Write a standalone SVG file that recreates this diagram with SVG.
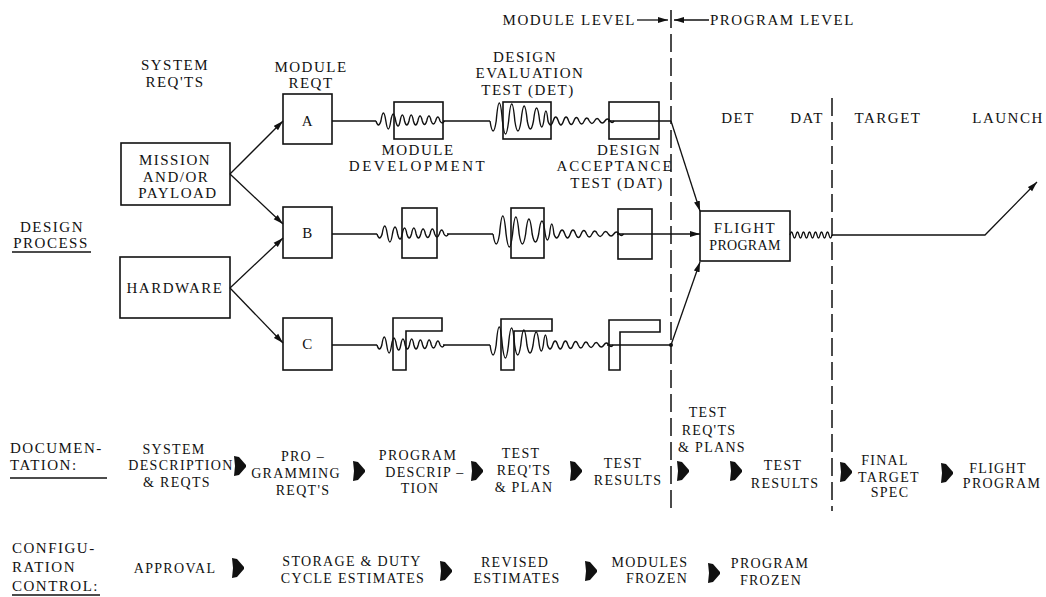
<svg xmlns="http://www.w3.org/2000/svg" width="1046" height="597" viewBox="0 0 1046 597" font-family="'Liberation Serif', 'DejaVu Serif', serif">
<style>
text{font-family:'Liberation Serif','DejaVu Serif',serif;font-size:15px;fill:#111;letter-spacing:1.5px}
.m{text-anchor:middle}
.e{text-anchor:end}
.s{font-size:14px;letter-spacing:1.3px}
.box{fill:none;stroke:#111;stroke-width:1.6}
.ln{fill:none;stroke:#111;stroke-width:1.3}
.dash{fill:none;stroke:#111;stroke-width:1.5;stroke-dasharray:18 6}
.fat{fill:#111}
</style>
<defs>
<marker id="ah" viewBox="0 0 10 6" refX="10" refY="3" markerWidth="10" markerHeight="7" orient="auto" markerUnits="userSpaceOnUse"><path d="M0,0 L10,3 L0,6 Z" fill="#111"/></marker>
<path id="w1" fill="none" stroke="#111" stroke-width="1.4" vector-effect="non-scaling-stroke" d="M0,0 q2.5,8 5,0 q2.5,-16 5,0 q2.5,16 5,0 q2.5,-14 5,0 q2.5,10 4.5,0 q2.25,-12 4.5,0 q2.25,8 4.5,0 q2.25,-12 4.5,0 q2.25,8 4.5,0 q2.25,-10 4.5,0 q2.25,7 4.5,0 q2.25,-10 4.5,0 q2.25,6 4.5,0 q2.25,-8 4.5,0 q2.25,4 4.5,0"/>
<path id="w2" fill="none" stroke="#111" stroke-width="1.4" vector-effect="non-scaling-stroke" d="M0,0 q3,20 6,0 q3,-36 6,0 q3,26 6,0 q3,-34 6,0 q3,20 6,0 q3,-30 6,0 q3,16 6,0 q3,-26 6,0 q2,12 4,0 q2,-20 4,0 q2.5,8 5,0 q2.5,-8 5,0 q2.5,8 5,0 q2.5,-8 5,0 q2.5,7 5,0 q2.5,-7 5,0 q2.5,6 5,0 q2.5,-6 5,0 q2.5,5 5,0 q2.5,-5 5,0 q2.5,4 5,0 q2.5,-4 5,0 q2,3 4,0"/>
<path id="fa" d="M0,-10 L5,-9 L12,-1 L12,1 L5,9 L0,10 L1,0 Z"/>
</defs>
<rect x="0" y="0" width="1046" height="597" fill="#fff"/>

<g id="level-markers">
<text class="e" x="636" y="25">MODULE LEVEL</text>
<text x="710" y="25">PROGRAM LEVEL</text>
<line x1="637" y1="20" x2="668" y2="20" class="ln" marker-end="url(#ah)"/>
<line x1="709" y1="20" x2="674" y2="20" class="ln" marker-end="url(#ah)"/>
<line x1="671" y1="10" x2="671" y2="512" class="dash"/>
<line x1="832" y1="98" x2="832" y2="511" class="dash"/>
</g>

<g id="headers">
<text class="m" x="175" y="70">SYSTEM</text>
<text class="m" x="175" y="87">REQ'TS</text>
<text class="m" x="311" y="72">MODULE</text>
<text class="m" x="311" y="88">REQT</text>
<text class="m" x="525" y="62">DESIGN</text>
<text class="m" x="530" y="78">EVALUATION</text>
<text class="m" x="528" y="95">TEST (DET)</text>
<text class="m" x="418" y="155">MODULE</text>
<text class="m" x="418" y="171" style="letter-spacing:2.5px">DEVELOPMENT</text>
<text class="m" x="629" y="155">DESIGN</text>
<text class="m" x="615" y="171" style="letter-spacing:2px">ACCEPTANCE</text>
<text class="m" x="617" y="188">TEST (DAT)</text>
<text class="m" x="738" y="123">DET</text>
<text class="m" x="807" y="123">DAT</text>
<text class="m" x="888" y="123">TARGET</text>
<text class="m" x="1008" y="123">LAUNCH</text>
</g>

<g id="side-labels">
<text class="m" x="52" y="232">DESIGN</text>
<text class="m" x="51" y="248">PROCESS</text>
<line x1="12" y1="252" x2="91" y2="252" class="ln"/>
<text x="10" y="453">DOCUMEN-</text>
<text x="10" y="470">TATION:</text>
<line x1="10" y1="478" x2="107" y2="478" class="ln"/>
<text x="12" y="553">CONFIGU-</text>
<text x="12" y="572">RATION</text>
<text x="12" y="591">CONTROL:</text>
<line x1="12" y1="595" x2="100" y2="595" class="ln"/>
</g>

<g id="mission">
<rect x="121" y="143" width="109" height="62" class="box"/>
<text class="m" x="175" y="165">MISSION</text>
<text class="m" x="176" y="182">AND/OR</text>
<text class="m" x="178" y="198">PAYLOAD</text>
</g>
<g id="hardware">
<rect x="120" y="257" width="110" height="61" class="box"/>
<text class="m" x="175" y="293">HARDWARE</text>
</g>
<g id="module-a">
<rect x="283" y="94" width="49" height="50" class="box"/>
<text class="m" x="308" y="126">A</text>
</g>
<g id="module-b">
<rect x="283" y="207" width="49" height="51" class="box"/>
<text class="m" x="308" y="238">B</text>
</g>
<g id="module-c">
<rect x="283" y="318" width="49" height="52" class="box"/>
<text class="m" x="308" y="349">C</text>
</g>

<g id="stages-a">
<rect x="394" y="102" width="49" height="37" class="box"/>
<rect x="503" y="102" width="48" height="37" class="box"/>
<rect x="609" y="102" width="50" height="37" class="box"/>
</g>
<g id="stages-b">
<rect x="402" y="208" width="35" height="50" class="box"/>
<rect x="511" y="208" width="33" height="50" class="box"/>
<rect x="618" y="209" width="34" height="50" class="box"/>
</g>
<g id="stages-c">
<polygon points="393,318 442,318 442,331 406,331 406,370 393,370" class="box"/>
<polygon points="501,319 552,319 552,331 514,331 514,370 501,370" class="box"/>
<polygon points="609,320 660,320 660,332 620,332 620,370 609,370" class="box"/>
</g>

<g id="flight-program">
<rect x="700" y="211" width="90" height="50" class="box"/>
<text class="m" x="745" y="233">FLIGHT</text>
<text class="m" x="745" y="250" style="font-size:14px;letter-spacing:0.3px">PROGRAM</text>
</g>

<g id="connectors">
<path class="ln" d="M230,174 L283,121" marker-end="url(#ah)"/>
<path class="ln" d="M230,174 L283,224" marker-end="url(#ah)"/>
<path class="ln" d="M230,288 L283,238" marker-end="url(#ah)"/>
<path class="ln" d="M230,288 L283,343" marker-end="url(#ah)"/>
<path class="ln" d="M332,121 H376 M443,121 H490 M608,121 H671"/>
<use href="#w1" transform="translate(376,121) scale(0.985,1)"/>
<use href="#w2" transform="translate(490,121) scale(1.035,1)"/>
<path class="ln" d="M332,234 H377 M447,234 H493"/>
<use href="#w1" transform="translate(377,234) scale(1.03,1)"/>
<use href="#w2" transform="translate(493,234) scale(1.088,1)"/>
<path class="ln" d="M617,234 H700" marker-end="url(#ah)"/>
<path class="ln" d="M332,345 H377 M443,345 H490 M607,345 H671"/>
<use href="#w1" transform="translate(377,345) scale(0.97,1)"/>
<use href="#w2" transform="translate(490,345) scale(1.026,1)"/>
<path class="ln" d="M671,121 L700,211" marker-end="url(#ah)"/>
<path class="ln" d="M671,345 L700,262" marker-end="url(#ah)"/>
<circle cx="671" cy="345" r="2" fill="#111"/>
<path class="ln" d="M790,235 q1.5,-6 3,0 t3,0 t3,0 t3,0 t3,0 t3,0 t3,0 t3,0 t3,0 t3,0 t3,0 t3,0 t3,0 t3,0"/>
<path class="ln" d="M832,235 H985 L1037,182" marker-end="url(#ah)"/>
</g>

<g id="documentation">
<text class="m s" x="174" y="454">SYSTEM</text>
<text class="m s" x="181" y="470">DESCRIPTION</text>
<text class="m s" x="177" y="487">&amp; REQTS</text>
<text class="m s" x="303" y="461">PRO –</text>
<text class="m s" x="296" y="478">GRAMMING</text>
<text class="m s" x="303" y="495">REQT'S</text>
<text class="m s" x="418" y="460">PROGRAM</text>
<text class="m s" x="425" y="477">DESCRIP –</text>
<text class="m s" x="420" y="493">TION</text>
<text class="m s" x="521" y="458">TEST</text>
<text class="m s" x="524" y="475">REQ'TS</text>
<text class="m s" x="524" y="492">&amp; PLAN</text>
<text class="m s" x="623" y="468">TEST</text>
<text class="m s" x="628" y="485">RESULTS</text>
<text class="m s" x="708" y="417">TEST</text>
<text class="m s" x="709" y="435">REQ'TS</text>
<text class="m s" x="712" y="452">&amp; PLANS</text>
<text class="m s" x="783" y="470">TEST</text>
<text class="m s" x="785" y="488">RESULTS</text>
<text class="m s" x="885" y="465">FINAL</text>
<text class="m s" x="889" y="482">TARGET</text>
<text class="m s" x="890" y="497">SPEC</text>
<text class="m s" x="998" y="473">FLIGHT</text>
<text class="m s" x="1002" y="488">PROGRAM</text>
<use href="#fa" class="fat" x="234" y="466"/>
<use href="#fa" class="fat" x="353" y="471"/>
<use href="#fa" class="fat" x="471" y="471"/>
<use href="#fa" class="fat" x="570" y="471"/>
<use href="#fa" class="fat" x="677" y="471"/>
<use href="#fa" class="fat" x="730" y="471"/>
<use href="#fa" class="fat" x="840" y="472"/>
<use href="#fa" class="fat" x="941" y="473"/>
</g>

<g id="configuration">
<text class="m s" x="175" y="573">APPROVAL</text>
<text class="m s" x="352" y="566">STORAGE &amp; DUTY</text>
<text class="m s" x="353" y="583">CYCLE ESTIMATES</text>
<text class="m s" x="515" y="567">REVISED</text>
<text class="m s" x="517" y="583">ESTIMATES</text>
<text class="m s" x="650" y="567">MODULES</text>
<text class="m s" x="657" y="583">FROZEN</text>
<text class="m s" x="770" y="568">PROGRAM</text>
<text class="m s" x="771" y="585">FROZEN</text>
<use href="#fa" class="fat" x="232" y="568"/>
<use href="#fa" class="fat" x="440" y="571"/>
<use href="#fa" class="fat" x="585" y="571"/>
<use href="#fa" class="fat" x="708" y="573"/>
</g>
</svg>
